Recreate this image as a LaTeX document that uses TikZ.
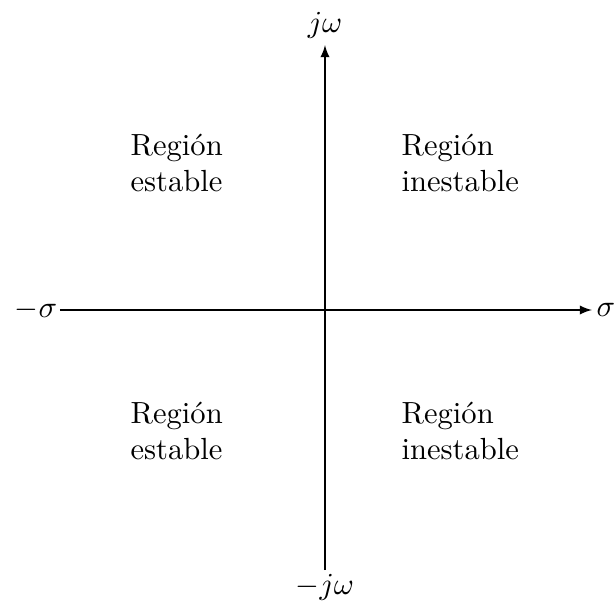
\documentclass[tikz,border=0pt]{standalone}
\usetikzlibrary{arrows}
\begin{document}
\begin{tikzpicture}[x=0.327pt,y=-0.327pt,
  lbl/.style={inner sep=0pt},
  region/.style={align=left,inner sep=0pt},
  axis/.style={-latex,line width=0.4pt}]
\useasboundingbox (0,0) rectangle (614,604);
\node[lbl] (wl) at (36,310) {$-\sigma$};
\node[lbl] (el) at (606,310) {$\sigma$};
\node[lbl] (nl) at (325,25) {$j\omega$};
\node[lbl] (sl) at (325,587) {$-j\omega$};
\coordinate (w) at (60,310);
\coordinate (e) at (592,310);
\coordinate (n) at (325,45);
\coordinate (s) at (325,570);
\draw[axis] (w) -- (e);
\draw[axis] (s) -- (n);
\node[region,anchor=west] (tl) at (130,163) {Región\\estable};
\node[region,anchor=west] (tr) at (401,163) {Región\\inestable};
\node[region,anchor=west] (bl) at (130,431) {Región\\estable};
\node[region,anchor=west] (br) at (401,431) {Región\\inestable};
\end{tikzpicture}
\end{document}
